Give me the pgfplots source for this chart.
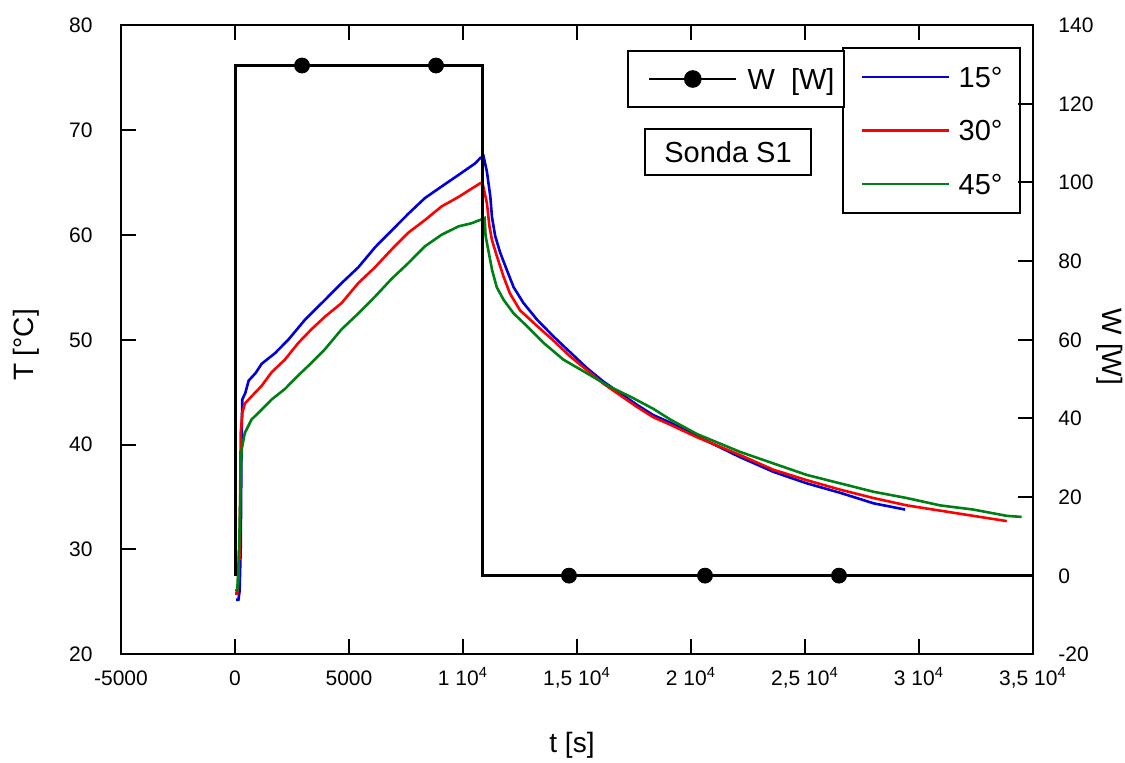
\documentclass[border=0pt]{standalone}
\usepackage{pgfplots}
\pgfplotsset{compat=1.18}
\usepackage{fontspec}
\setmainfont{Liberation Sans}
\definecolor{cblue}{RGB}{0,0,215}
\definecolor{cred}{RGB}{255,0,0}
\definecolor{cgreen}{RGB}{0,128,20}
\pgfplotsset{
  myaxis/.style={
    scale only axis, width=456pt, height=314.65pt,
    at={(0pt,0pt)}, anchor=south west,
    xmin=-5000, xmax=35000,
    axis line style={line width=1pt},
    tick align=inside,
    major tick length=7.5pt,
    every tick/.style={black, line width=1pt},
    tick label style={font=\fontsize{10.5}{12}\selectfont},
    label style={font=\fontsize{14}{17}\selectfont},
    scaled x ticks=false, scaled y ticks=false,
  }
}
\begin{document}
\begin{tikzpicture}
\begin{axis}[myaxis,
  ymin=20, ymax=80,
  ytick={20,30,40,50,60,70,80},
  yticklabels={20,30,40,50,60,70,80},
  xtick={-5000,0,5000,10000,15000,20000,25000,30000,35000},
  xticklabels={-5000,0,5000,1 10\textsuperscript{4},{1,5 10\textsuperscript{4}},2 10\textsuperscript{4},{2,5 10\textsuperscript{4}},3 10\textsuperscript{4},{3,5 10\textsuperscript{4}}},
  xtick pos=both, xticklabel pos=bottom,
  ytick pos=left,
  xticklabel style={inner sep=0pt, anchor=north, yshift=-7.8pt, text height=7.4pt, text depth=0pt},
  yticklabel style={inner sep=0pt, anchor=east, xshift=-14pt, text height=7.4pt, text depth=0pt},
  xlabel={t [s]},
  xlabel style={at={(axis description cs:0.4945,-0.1441)}, anchor=center},
  ylabel={T [°C]},
  ylabel style={at={(axis description cs:-0.1042,0.4915)}, anchor=center, rotate=0},
  legend style={at={(0.7906,0.9650)}, anchor=north west, draw=black, line width=1pt,
    inner xsep=9pt, inner ysep=9.3pt, row sep=16.35pt, column sep=4pt,
    font=\fontsize{14.5}{17}\selectfont,
    nodes={inner sep=0pt, text height=10.4pt, text depth=0pt}},
  legend cell align=left,
  legend image code/.code={\draw[#1] (0pt,0pt) -- (43.5pt,0pt);},
]
\addplot[cblue, line width=1.3pt] coordinates {
(50,25.2)(150,25.2)(200,26)(250,30)(280,38)(300,42)(320,44.3)(450,44.9)(600,46.1)(900,46.8)(1170,47.7)(1750,48.7)(2340,50.0)(3070,51.9)(3950,53.8)(4680,55.4)(5410,56.9)(6140,58.8)(6870,60.4)(7600,62.0)(8330,63.5)(9060,64.6)(9800,65.7)(10530,66.8)(10750,67.3)(10900,67.5)(11050,66.0)(11200,63.6)(11270,61.7)(11410,59.9)(11630,58.3)(11930,56.6)(12220,55.0)(12650,53.5)(13250,51.9)(13970,50.3)(14700,48.8)(15430,47.3)(16160,46.0)(16890,44.9)(17620,43.8)(18350,42.8)(19080,42.1)(20260,40.8)(22150,38.8)(23610,37.4)(25080,36.3)(26540,35.4)(28000,34.4)(29390,33.8)
};
\addlegendentry{15°}
\addplot[cred, line width=1.3pt] coordinates {
(0,25.8)(100,25.8)(150,27)(180,30)(200,29)(230,36)(250,41.1)(320,43.0)(430,43.9)(730,44.6)(1170,45.6)(1610,46.9)(2190,48.1)(2780,49.7)(3360,51.0)(3950,52.2)(4680,53.5)(5410,55.4)(6140,56.9)(6870,58.6)(7600,60.2)(8330,61.4)(9060,62.7)(9800,63.6)(10380,64.4)(10750,64.9)(10850,65.0)(11050,63.0)(11160,60.8)(11270,59.5)(11480,58.0)(11780,56.0)(12060,54.4)(12500,52.8)(13250,51.3)(13970,49.9)(14700,48.4)(15430,47.1)(16160,45.8)(16890,44.7)(17620,43.6)(18350,42.6)(19080,41.9)(20260,40.7)(22150,39.0)(23610,37.6)(25080,36.6)(26540,35.7)(28000,34.9)(29460,34.2)(30920,33.7)(32380,33.2)(33850,32.7)
};
\addlegendentry{30°}
\addplot[cgreen, line width=1.3pt] coordinates {
(0,26.1)(100,26.1)(180,30)(250,37)(290,39.5)(430,41.1)(730,42.4)(1020,43.0)(1610,44.3)(2190,45.3)(2780,46.6)(3360,47.8)(3950,49.1)(4680,51.0)(5410,52.5)(6140,54.1)(6870,55.8)(7600,57.3)(8330,58.9)(9060,60.0)(9800,60.8)(10380,61.1)(10850,61.5)(10950,61.6)(10990,59.9)(11130,58.3)(11280,56.6)(11480,55.0)(11780,53.8)(12220,52.5)(12800,51.3)(13530,49.7)(14400,48.1)(15430,46.8)(16450,45.5)(17400,44.5)(18350,43.4)(19080,42.4)(20260,41.0)(22150,39.3)(23610,38.2)(25080,37.1)(26540,36.3)(28000,35.5)(29460,34.9)(30920,34.2)(32380,33.8)(33850,33.2)(34500,33.1)
};
\addlegendentry{45°}
\end{axis}
\begin{axis}[myaxis,
  ymin=-20, ymax=140,
  ytick={-20,0,20,40,60,80,100,120,140},
  yticklabels={-20,0,20,40,60,80,100,120,140},
  axis x line=none, axis y line*=right,
  ytick pos=right,
  yticklabel style={inner sep=0pt, anchor=west, xshift=12.5pt, text height=7.4pt, text depth=0pt},
  ylabel={W [W]},
  ylabel style={at={(axis description cs:1.0844,0.4883)}, anchor=center, rotate=180},
  legend style={at={(0.5548,0.9603)}, anchor=north west, draw=black, line width=1pt,
    inner xsep=4.5pt, inner ysep=8.8pt, column sep=5pt,
    font=\fontsize{14.5}{17}\selectfont,
    nodes={inner sep=0pt, text height=10.4pt, text depth=0pt}},
  legend image code/.code={\path (0pt,0pt); \draw[mark repeat=2, mark phase=2, #1] plot coordinates {(5.5pt,0pt)(27.25pt,0pt)(49pt,0pt)};},
]
\addlegendimage{black, line width=1.3pt, mark=*, mark size=3.75pt}
\addlegendentry{W\ \ [W]}
\addplot[black, line width=1.5pt, forget plot] coordinates {
(0,0)(0,129.7)(10850,129.7)(10850,0)(35000,0)
};
\addplot[only marks, mark=*, mark size=3.75pt, black, forget plot] coordinates {
(2940,129.7)(8816,129.7)(14649,0)(20614,0)(26491,0)
};
\node[draw=black, line width=1pt, minimum width=83pt, minimum height=23pt, inner sep=0pt,
  text height=10.4pt, text depth=0pt, font=\fontsize{14.5}{17}\selectfont]
  at (rel axis cs:0.6656,0.7982) {Sonda S1};
\end{axis}
\pgfresetboundingbox
\path[use as bounding box] (-60.5pt,-53.85pt) rectangle (502pt,327.15pt);
\end{tikzpicture}
\end{document}
